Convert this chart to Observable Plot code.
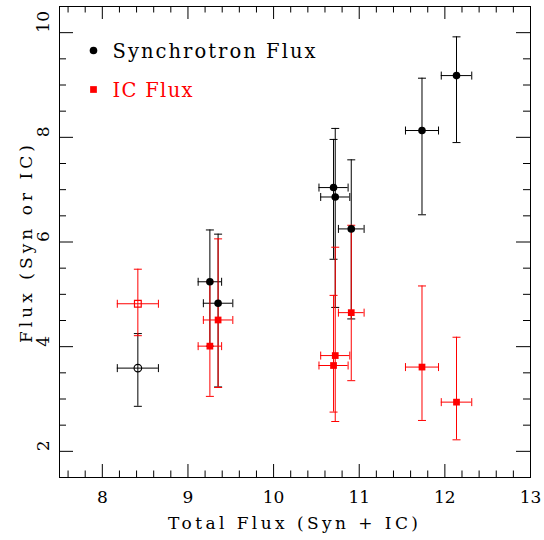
<!DOCTYPE html>
<html>
<head>
<meta charset="utf-8">
<script src="https://cdn.jsdelivr.net/npm/d3@7"></script>
<script src="https://cdn.jsdelivr.net/npm/@observablehq/plot@0.6"></script>
<style>
  html, body { margin: 0; padding: 0; background: white; }
</style>
</head>
<body>
<div id="chart"></div>
<script>
// Data
const total    = [8.415, 9.256, 9.352, 10.70, 10.72, 10.907, 11.733, 12.136];
const totalErr = [0.24, 0.137, 0.172, 0.17, 0.17, 0.15, 0.193, 0.178];
const syn      = [3.59, 5.24, 4.83, 7.04, 6.86, 6.25, 8.13, 9.18];
const synHi    = [4.25, 6.23, 6.15, 7.96, 8.17, 7.57, 9.13, 9.92];
const synLo    = [2.86, 4.01, 3.23, 5.67, 4.75, 4.53, 6.52, 7.90];
const ic       = [4.82, 4.01, 4.51, 3.64, 3.83, 4.65, 3.61, 2.94];
const icHi     = [5.48, 5.24, 6.06, 4.98, 5.90, 6.32, 5.16, 4.18];
const icLo     = [4.21, 3.05, 3.22, 2.75, 2.57, 3.35, 2.59, 2.22];
const hollow   = [true, false, false, false, false, false, false, false];

const xTickLabels = [8, 9, 10, 11, 12, 13];
const yTickLabels = [2, 4, 6, 8, 10];
const xLabel = "Total Flux (Syn + IC)";
const yLabel = "Flux (Syn or IC)";
const legendLabels = ["Synchrotron Flux", "IC Flux"];

const font = "DejaVu Serif";
const RED = "#ff0000";

const synRows = total.map((t, i) => ({x: t, xe: totalErr[i], y: syn[i], lo: synLo[i], hi: synHi[i], hollow: hollow[i]}));
const icRows  = total.map((t, i) => ({x: t, xe: totalErr[i], y: ic[i], lo: icLo[i], hi: icHi[i], hollow: hollow[i]}));

// cap symbols
const capH = {draw(ctx, size) { const w = Math.sqrt(size / Math.PI); ctx.moveTo(-w, 0); ctx.lineTo(w, 0); }};
const capV = {draw(ctx, size) { const w = Math.sqrt(size / Math.PI); ctx.moveTo(0, -w); ctx.lineTo(0, w); }};

function errorMarks(rows, color) {
  return [
    Plot.ruleX(rows, {x: "x", y1: "lo", y2: "hi", stroke: color, strokeWidth: 1}),
    Plot.ruleY(rows, {y: "y", x1: d => d.x - d.xe, x2: d => d.x + d.xe, stroke: color, strokeWidth: 1}),
    Plot.dot(rows, {x: "x", y: "lo", symbol: capH, r: 4, stroke: color, strokeWidth: 1}),
    Plot.dot(rows, {x: "x", y: "hi", symbol: capH, r: 4, stroke: color, strokeWidth: 1}),
    Plot.dot(rows, {x: d => d.x - d.xe, y: "y", symbol: capV, r: 4, stroke: color, strokeWidth: 1}),
    Plot.dot(rows, {x: d => d.x + d.xe, y: "y", symbol: capV, r: 4, stroke: color, strokeWidth: 1})
  ];
}

const FW = 471, FH = 471; // frame size in px
const xMinor = d3.range(7.6, 13, 0.2).filter(v => Math.abs(v - Math.round(v)) > 0.01);
const yMinor = d3.range(2, 10.5, 0.5).filter(v => v % 2 !== 0);

const chart = Plot.plot({
  width: 544,
  height: 540,
  marginLeft: 59,
  marginRight: 14,
  marginTop: 6,
  marginBottom: 63,
  x: {domain: [7.5, 13], axis: null},
  y: {domain: [1.5, 10.5], axis: null},
  style: {fontFamily: font, background: "white", overflow: "visible"},
  marks: [
    // ticks (inside)
    Plot.tickX(xTickLabels, {x: d => d, insetTop: FH - 13, stroke: "black"}),
    Plot.tickX(xTickLabels, {x: d => d, insetBottom: FH - 13, stroke: "black"}),
    Plot.tickX(xMinor, {x: d => d, insetTop: FH - 6.5, stroke: "black"}),
    Plot.tickX(xMinor, {x: d => d, insetBottom: FH - 6.5, stroke: "black"}),
    Plot.tickY(yTickLabels, {y: d => d, insetRight: FW - 14, stroke: "black"}),
    Plot.tickY(yTickLabels, {y: d => d, insetLeft: FW - 14, stroke: "black"}),
    Plot.tickY(yMinor, {y: d => d, insetRight: FW - 7, stroke: "black"}),
    Plot.tickY(yMinor, {y: d => d, insetLeft: FW - 7, stroke: "black"}),
    Plot.frame({stroke: "black", strokeWidth: 1}),
    // tick labels
    Plot.text(xTickLabels, {x: d => d, text: d => String(d), frameAnchor: "bottom", lineAnchor: "middle", dy: 20, fontSize: 17, fill: "black"}),
    Plot.text(yTickLabels, {y: d => d, text: d => String(d), frameAnchor: "left", lineAnchor: "middle", dx: -16, rotate: -90, fontSize: 17, fill: "black"}),
    // axis titles
    Plot.text([xLabel], {text: d => d, frameAnchor: "bottom", lineAnchor: "middle", dy: 46, dx: -2, fontSize: 17, fill: "black", className: "w250"}),
    Plot.text([yLabel], {text: d => d, frameAnchor: "left", lineAnchor: "middle", textAnchor: "start", dx: -33, dy: 101, rotate: -90, fontSize: 17, fill: "black", className: "w198"}),
    // error bars
    ...errorMarks(synRows, "black"),
    ...errorMarks(icRows, RED),
    // markers
    Plot.dot(synRows.filter(d => !d.hollow), {x: "x", y: "y", r: 3.8, fill: "black", stroke: "none"}),
    Plot.dot(synRows.filter(d => d.hollow), {x: "x", y: "y", r: 3.8, fill: "none", stroke: "black", strokeWidth: 1.2}),
    Plot.dot(icRows.filter(d => !d.hollow), {x: "x", y: "y", symbol: "square", r: 3.8, fill: RED, stroke: "none"}),
    Plot.dot(icRows.filter(d => d.hollow), {x: "x", y: "y", symbol: "square", r: 3.8, fill: "none", stroke: RED, strokeWidth: 1.2}),
    // legend
    Plot.dot([legendLabels[0]], {frameAnchor: "top-left", dx: 34, dy: 44, r: 3.8, fill: "black", stroke: "none"}),
    Plot.text([legendLabels[0]], {text: d => d, frameAnchor: "top-left", lineAnchor: "middle", dx: 53, dy: 45, textAnchor: "start", fontSize: 19.5, fill: "black", className: "w203"}),
    Plot.dot([legendLabels[1]], {frameAnchor: "top-left", dx: 34, dy: 83, symbol: "square", r: 3.8, fill: RED, stroke: "none"}),
    Plot.text([legendLabels[1]], {text: d => d, frameAnchor: "top-left", lineAnchor: "middle", dx: 53, dy: 84, textAnchor: "start", fontSize: 19.5, fill: RED, className: "w80"})
  ]
});
// stretch spacing of titles/legend like the reference's wide plotting font
[["w250", 250], ["w198", 198], ["w203", 203], ["w80", 80]].forEach(([cls, w]) => {
  chart.querySelectorAll(`.${cls} text`).forEach(t => {
    t.setAttribute("textLength", w);
    t.setAttribute("lengthAdjust", "spacing");
  });
});
document.getElementById("chart").appendChild(chart);
</script>
</body>
</html>
